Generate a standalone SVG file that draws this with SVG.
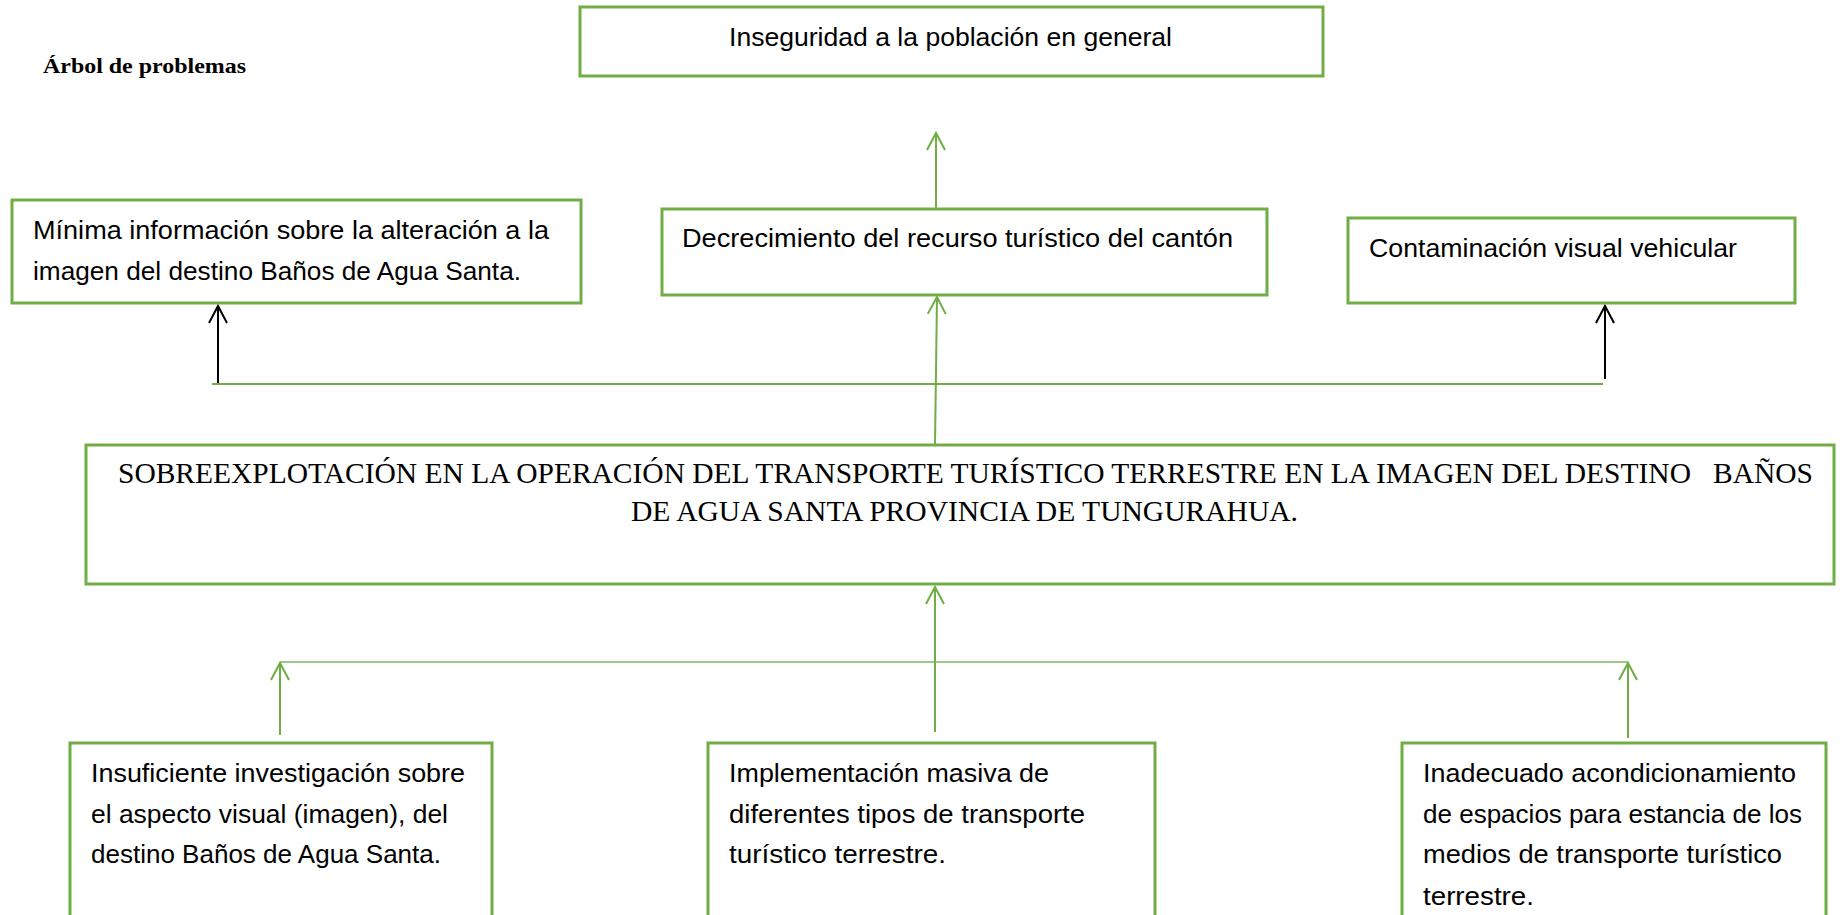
<svg xmlns="http://www.w3.org/2000/svg" width="1840" height="915" viewBox="0 0 1840 915">
<style>
.box{fill:#fff;stroke:#70AD47;stroke-width:3}
.t{font-family:"Liberation Sans",Arial,sans-serif;font-size:26px;fill:#000}
.m{font-family:"Liberation Serif","Times New Roman",serif;font-size:30px;fill:#000;white-space:pre}
.title{font-family:"Liberation Serif","Times New Roman",serif;font-size:21px;font-weight:bold;fill:#000}
.g{stroke:#70AD47;stroke-width:2;fill:none}
.gt{stroke:#7FB75C;stroke-width:1.6;fill:none}
.k{stroke:#000;stroke-width:2;fill:none}
</style>
<defs>
<marker id="ag" viewBox="-19 -11 22 22" refX="0" refY="0" markerWidth="22" markerHeight="22" markerUnits="userSpaceOnUse" orient="auto">
<path d="M-17,-9 L0,0 L-17,9" fill="none" stroke="#70AD47" stroke-width="2"/>
</marker>
<marker id="ak" viewBox="-19 -11 22 22" refX="0" refY="0" markerWidth="22" markerHeight="22" markerUnits="userSpaceOnUse" orient="auto">
<path d="M-17,-9 L0,0 L-17,9" fill="none" stroke="#000" stroke-width="2"/>
</marker>
</defs>
<rect width="1840" height="915" fill="#fff"/>
<text class="title" x="43" y="73" textLength="203" lengthAdjust="spacingAndGlyphs">Árbol de problemas</text>

<g id="connectors">
<line class="g" x1="936" y1="208" x2="936" y2="133" marker-end="url(#ag)"/>
<line class="g" x1="935" y1="445" x2="937" y2="297" marker-end="url(#ag)"/>
<line class="g" x1="212" y1="384" x2="1603" y2="384"/>
<line class="k" x1="218" y1="383" x2="218" y2="306" marker-end="url(#ak)"/>
<line class="k" x1="1605" y1="379" x2="1605" y2="306" marker-end="url(#ak)"/>
<line class="g" x1="935" y1="732" x2="935" y2="587" marker-end="url(#ag)"/>
<line class="gt" x1="280" y1="662" x2="1628" y2="662"/>
<line class="g" x1="280" y1="735" x2="280" y2="663" marker-end="url(#ag)"/>
<line class="g" x1="1628" y1="738" x2="1628" y2="663" marker-end="url(#ag)"/>
</g>

<g id="n-inseguridad">
<rect class="box" x="580" y="7" width="743" height="69"/>
<text class="t" x="729" y="46" textLength="443" lengthAdjust="spacingAndGlyphs">Inseguridad a la población en general</text>
</g>
<g id="n-minima">
<rect class="box" x="12" y="200" width="569" height="103"/>
<text class="t" x="33" y="239" textLength="516" lengthAdjust="spacingAndGlyphs">Mínima información sobre la alteración a la</text>
<text class="t" x="33" y="280" textLength="488" lengthAdjust="spacingAndGlyphs">imagen del destino Baños de Agua Santa.</text>
</g>
<g id="n-decrecimiento">
<rect class="box" x="662" y="209" width="605" height="86"/>
<text class="t" x="682" y="247" textLength="551" lengthAdjust="spacingAndGlyphs">Decrecimiento del recurso turístico del cantón</text>
</g>
<g id="n-contaminacion">
<rect class="box" x="1348" y="218" width="447" height="85"/>
<text class="t" x="1369" y="257" textLength="368" lengthAdjust="spacingAndGlyphs">Contaminación visual vehicular</text>
</g>
<g id="n-problema">
<rect class="box" x="86" y="445" width="1748" height="139"/>
<text class="m" x="118" y="483" textLength="1695" lengthAdjust="spacingAndGlyphs">SOBREEXPLOTACIÓN EN LA OPERACIÓN DEL TRANSPORTE TURÍSTICO TERRESTRE EN LA IMAGEN DEL DESTINO   BAÑOS</text>
<text class="m" x="631" y="521" textLength="667" lengthAdjust="spacingAndGlyphs">DE AGUA SANTA PROVINCIA DE TUNGURAHUA.</text>
</g>
<g id="n-insuficiente">
<rect class="box" x="70" y="743" width="422" height="190"/>
<text class="t" x="91" y="782" textLength="374" lengthAdjust="spacingAndGlyphs">Insuficiente investigación sobre</text>
<text class="t" x="91" y="823" textLength="357" lengthAdjust="spacingAndGlyphs">el aspecto visual (imagen), del</text>
<text class="t" x="91" y="863" textLength="350" lengthAdjust="spacingAndGlyphs">destino Baños de Agua Santa.</text>
</g>
<g id="n-implementacion">
<rect class="box" x="708" y="743" width="447" height="190"/>
<text class="t" x="729" y="782" textLength="320" lengthAdjust="spacingAndGlyphs">Implementación masiva de</text>
<text class="t" x="729" y="823" textLength="356" lengthAdjust="spacingAndGlyphs">diferentes tipos de transporte</text>
<text class="t" x="729" y="863" textLength="217" lengthAdjust="spacingAndGlyphs">turístico terrestre.</text>
</g>
<g id="n-inadecuado">
<rect class="box" x="1402" y="743" width="424" height="190"/>
<text class="t" x="1423" y="782" textLength="373" lengthAdjust="spacingAndGlyphs">Inadecuado acondicionamiento</text>
<text class="t" x="1423" y="823" textLength="379" lengthAdjust="spacingAndGlyphs">de espacios para estancia de los</text>
<text class="t" x="1423" y="863" textLength="359" lengthAdjust="spacingAndGlyphs">medios de transporte turístico</text>
<text class="t" x="1423" y="905" textLength="111" lengthAdjust="spacingAndGlyphs">terrestre.</text>
</g>
</svg>
